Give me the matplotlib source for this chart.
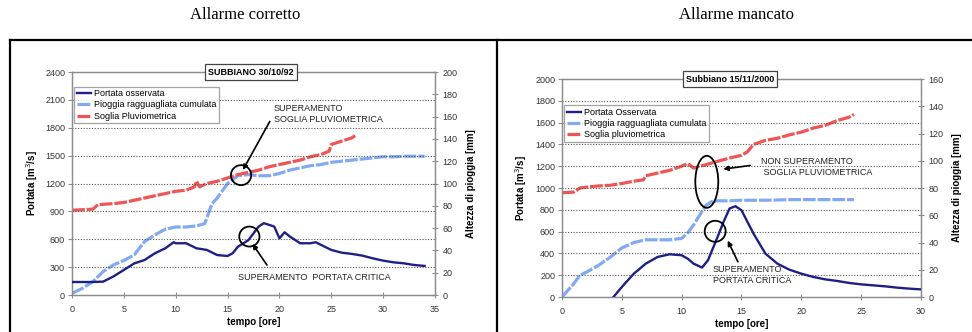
import numpy as np
import matplotlib
matplotlib.use('Agg')
import matplotlib.pyplot as plt
from matplotlib.patches import Ellipse
from matplotlib.lines import Line2D

plt.rcParams['font.family'] = ['Liberation Sans', 'DejaVu Sans']

# --- Allarme corretto (Subbiano 30/10/92) ---
t_q1 = [0, 1, 2, 3, 4, 5, 6, 7, 8, 9, 9.8, 10, 11, 12, 13, 14, 15, 15.5, 16, 17, 18, 18.5,
        19.5, 20, 20.5, 21, 22, 23, 23.5, 24, 25, 26, 27, 28, 29, 30, 31, 32, 33, 34]
q1 = [140, 140, 140, 144, 200, 270, 340, 377, 450, 503, 568, 557, 557, 503, 485, 430, 420,
      450, 520, 590, 737, 773, 737, 610, 675, 630, 557, 557, 568, 540, 485, 456, 442, 424,
      395, 370, 352, 341, 323, 313]

t_p1 = [0, 1, 2, 3, 4, 5, 6, 7, 8, 9, 10, 11, 12, 12.8, 13.5, 14, 15, 16, 17, 18, 19, 20,
        21, 22, 23, 24, 25, 26, 27, 28, 29, 30, 31, 32, 34]
p1 = [1.5, 6, 12, 21, 27, 31, 36, 48, 54, 59, 61, 61, 62, 64, 82, 87, 100, 107, 108, 107,
      107, 109, 112, 114, 116, 117, 119, 120, 121, 122, 123, 124, 124, 124.5, 124.5]

t_s1 = [0, 2, 2.5, 4, 5, 6, 7, 8, 9, 10, 11, 11.8, 12, 12.3, 13, 14, 15, 16, 17, 18, 19, 20,
        21, 22, 23, 24, 24.8, 25, 26, 27, 27.3]
s1 = [76, 77, 81, 82, 83, 85, 87, 89, 91, 93, 94, 97, 102, 97, 100, 102, 105, 108, 110, 112,
      115, 117, 119, 121, 124, 126, 129, 135, 138, 141, 143]

# --- Allarme mancato (Subbiano 15/11/2000) ---
t_q2 = [4.3, 5, 6, 7, 8, 9, 10, 10.5, 11, 11.7, 12.2, 13, 13.5, 14, 14.5, 15, 16, 17, 18,
        19, 20, 21, 22, 23, 24, 25, 26, 27, 28, 29, 30]
q2 = [0, 92, 214, 306, 368, 392, 383, 352, 306, 270, 337, 551, 689, 812, 833, 796, 582, 398,
      306, 251, 214, 184, 162, 147, 129, 116, 107, 98, 86, 77, 70]

t_p2 = [0, 0.5, 1, 1.5, 2, 3, 4, 5, 6, 7, 8, 9, 10, 10.5, 11, 11.5, 12, 12.5, 13, 14, 15,
        17, 19, 24.4]
p2 = [0, 5, 10, 16, 18, 23, 29, 36, 40, 42, 42, 42, 43, 47, 53, 60, 67, 70, 70.6, 70.6, 71,
      71, 71.5, 71.5]

t_s2 = [0, 1, 1.5, 2, 3, 4, 5, 6, 6.8, 7, 8, 9, 10, 10.5, 11, 11.5, 12, 13, 14, 15, 15.5,
        16, 17, 18, 19, 20, 21, 22, 23, 24, 24.4]
s2 = [76.5, 77, 80, 80.6, 81.5, 82, 83.3, 85, 86, 89, 91, 93, 96, 98, 94.6, 96, 97, 99.6,
      102, 104, 106.6, 112, 115, 116.5, 119, 121, 124, 126, 129.5, 132, 134]

C_Q = '#1f1f85'
C_P = '#82aaf2'
C_S = '#f05454'
GRAY = '#8c8c8c'
TXT = '#333333'

fig = plt.figure(figsize=(9.72, 3.32), dpi=100)

# cornice della tabella
fig.add_artist(Line2D([0.0098, 1.0], [0.8795, 0.8795], color='k', lw=1.6))
fig.add_artist(Line2D([0.0103, 0.0103], [0, 0.8795], color='k', lw=1.6))
fig.add_artist(Line2D([0.5113, 0.5113], [0, 0.8795], color='k', lw=1.6))
fig.text(0.252, 0.955, 'Allarme corretto', ha='center', va='center',
         family='Liberation Serif', fontsize=12)
fig.text(0.758, 0.955, 'Allarme mancato', ha='center', va='center',
         family='Liberation Serif', fontsize=12)


def pannello(rect, xmax, qmax, qstep, pmax, titolo, tq, q, tp, p, ts, s, nomi, box_x, leg_y):
    ax = fig.add_axes(rect)
    ax2 = ax.twinx()
    ax.set_xlim(0, xmax)
    ax.set_ylim(0, qmax)
    ax2.set_ylim(0, pmax)
    ax.set_yticks(np.arange(0, qmax + 1, qstep))
    ax2.set_yticks(np.arange(0, pmax + 1, 20))
    ax.set_xticks(np.arange(0, xmax + 1, 5))
    for v in np.arange(qstep, qmax, qstep):
        ax.axhline(v, color='#555555', lw=0.8, ls=(0, (1, 1.5)), zorder=0)
    for a in (ax, ax2):
        for sp in a.spines.values():
            sp.set_color(GRAY)
            sp.set_linewidth(0.9)
    ax.tick_params(axis='y', direction='out', length=3, color=GRAY, labelsize=6.5,
                   labelcolor=TXT, pad=2)
    ax.tick_params(axis='x', direction='inout', length=4, color=GRAY, labelsize=6.5,
                   labelcolor=TXT, pad=5)
    ax2.tick_params(axis='y', direction='inout', length=5, color=GRAY, labelsize=6.5,
                    labelcolor=TXT, pad=3)

    l1, = ax.plot(tq, q, color=C_Q, lw=1.7, zorder=3)
    l2, = ax2.plot(tp, p, color=C_P, lw=2.3, ls=(0, (4, 0.6)), zorder=2)
    l3, = ax2.plot(ts, s, color=C_S, lw=2.3, ls=(0, (4, 0.6)), zorder=2)

    ax.set_xlabel('tempo [ore]', fontsize=7, fontweight='bold', labelpad=2)
    ax.set_ylabel('Portata [m$^3$/s]', fontsize=7, fontweight='bold', labelpad=4)
    ax2.set_ylabel('Altezza di pioggia [mm]', fontsize=7, fontweight='bold', labelpad=6)

    ax.text(box_x, 1.0, titolo, transform=ax.transAxes, ha='center', va='center',
            fontsize=6.5, fontweight='bold', zorder=10,
            bbox=dict(boxstyle='square,pad=0.35', fc='white', ec='#444444', lw=0.9))
    leg = ax.legend([l1, l2, l3], nomi, loc='upper left', bbox_to_anchor=(0.006, leg_y),
                    fontsize=6.5, frameon=True, fancybox=False, borderpad=0.3,
                    handlelength=1.6, handletextpad=0.3, labelspacing=0.25,
                    borderaxespad=0)
    leg.get_frame().set_edgecolor(GRAY)
    leg.get_frame().set_linewidth(0.9)
    leg.set_zorder(10)
    ax.set_zorder(ax2.get_zorder() + 1)
    ax.patch.set_visible(False)
    return ax


# pannello sinistro
ax = pannello([0.0741, 0.1114, 0.3734, 0.6717], 35, 2400, 300, 200, 'SUBBIANO 30/10/92',
              t_q1, q1, t_p1, p1, t_s1, s1,
              ['Portata osservata', 'Pioggia ragguagliata cumulata', 'Soglia Pluviometrica'],
              0.493, 0.935)
ax.add_patch(Ellipse((16.3, 1290), 1.95, 215, fill=False, ec='k', lw=1.3, zorder=5))
ax.add_patch(Ellipse((17.1, 629), 1.95, 215, fill=False, ec='k', lw=1.3, zorder=5))
ax.annotate('', xy=(16.35, 1320), xytext=(19.2, 1894),
            arrowprops=dict(arrowstyle='-|>', color='k', lw=1.2, mutation_scale=7), zorder=6)
ax.annotate('', xy=(17.25, 575), xytext=(18.95, 298),
            arrowprops=dict(arrowstyle='-|>', color='k', lw=1.2, mutation_scale=7), zorder=6)
ax.text(19.45, 1945, 'SUPERAMENTO\nSOGLIA PLUVIOMETRICA', fontsize=6.5, color='#222222',
        ha='left', va='center', linespacing=1.3)
ax.text(16.0, 190, 'SUPERAMENTO  PORTATA CRITICA', fontsize=6.5, color='#222222',
        ha='left', va='center')

# pannello destro
ax = pannello([0.5782, 0.1054, 0.3693, 0.6566], 30, 2000, 200, 160, 'Subbiano 15/11/2000',
              t_q2, q2, t_p2, p2, t_s2, s2,
              ['Portata Osservata', 'Pioggia ragguagliata cumulata', 'Soglia pluviometrica'],
              0.468, 0.881)
ax.add_patch(Ellipse((12.1, 1057), 1.92, 477, fill=False, ec='k', lw=1.3, zorder=5))
ax.add_patch(Ellipse((12.8, 603), 1.75, 193, fill=False, ec='k', lw=1.3, zorder=5))
ax.annotate('', xy=(13.25, 1170), xytext=(15.95, 1210),
            arrowprops=dict(arrowstyle='-|>', color='k', lw=1.2, mutation_scale=7), zorder=6)
ax.annotate('', xy=(13.75, 540), xytext=(14.8, 300),
            arrowprops=dict(arrowstyle='-|>', color='k', lw=1.2, mutation_scale=7), zorder=6)
ax.text(16.6, 1193, 'NON SUPERAMENTO\n SOGLIA PLUVIOMETRICA', fontsize=6.5, color='#222222',
        ha='left', va='center', multialignment='left', linespacing=1.3)
ax.text(12.6, 202, 'SUPERAMENTO\nPORTATA CRITICA', fontsize=6.5, color='#222222',
        ha='left', va='center', multialignment='left', linespacing=1.3)

fig.savefig('out.png', dpi=100)
